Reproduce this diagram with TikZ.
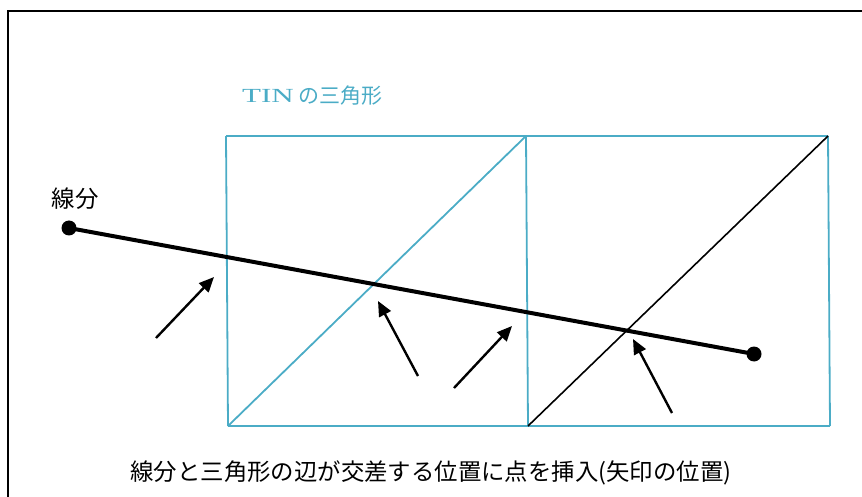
\documentclass[tikz,border=0pt]{standalone}
\usepackage{fontspec}
\setmainfont{Liberation Serif}
\newfontfamily\jp{Noto Sans CJK JP}
\usetikzlibrary{arrows.meta}
\definecolor{tinblue}{RGB}{75,172,198}
\begin{document}
\begin{tikzpicture}[x=1pt,y=-1pt,
  tinedge/.style={draw=tinblue,line width=1.8pt},
  blackedge/.style={draw=black,line width=1.6pt},
  seg/.style={line width=4pt},
  endpt/.style={circle,fill=black,inner sep=0pt,minimum size=15pt},
  pointer/.style={line width=2.4pt,-{Triangle[length=15pt,width=13pt]}},
  jplbl/.style={inner sep=0pt,font=\jp\fontsize{23.4}{24}\selectfont},
  tinlbl/.style={inner sep=0pt,text=tinblue}
]
\useasboundingbox (0,0) rectangle (862,497);
\draw[line width=2pt] (8,11) rectangle (872,507);
% TIN vertices
\coordinate (a1) at (226,136);
\coordinate (a2) at (526,136);
\coordinate (a3) at (828,136);
\coordinate (b1) at (228,426);
\coordinate (b2) at (528,426);
\coordinate (b3) at (830,426);
% triangles
\draw[tinedge] (a1) -- (a2) -- (a3);
\draw[tinedge] (b1) -- (b2) -- (b3);
\draw[tinedge] (a1) -- (b1);
\draw[tinedge] (a2) -- (b2);
\draw[tinedge] (a3) -- (b3);
\draw[tinedge] (b1) -- (a2);
\draw[blackedge] (b2) -- (a3);
% segment
\node[endpt] (p) at (69,228) {};
\node[endpt] (q) at (754,354) {};
\draw[seg] (p.center) -- (q.center);
% arrows
\coordinate (t1) at (156,338); \coordinate (h1) at (214,277);
\coordinate (t2) at (418,376); \coordinate (h2) at (378,301);
\coordinate (t3) at (454,388); \coordinate (h3) at (512,326);
\coordinate (t4) at (672,413); \coordinate (h4) at (633,339);
\draw[pointer] (t1) -- (h1);
\draw[pointer] (t2) -- (h2);
\draw[pointer] (t3) -- (h3);
\draw[pointer] (t4) -- (h4);
% labels
\node[tinlbl,anchor=base west] (tin) at (242,103) {\fontsize{20}{20}\selectfont\scalebox{1.55}[1]{TIN}\hspace{5pt}{\jp\fontsize{21}{21}\selectfont\raisebox{-1pt}{の三角形}}};
\node[jplbl] (segl) at (75,199) {線分};
\node[jplbl] (cap) at (431,473) {線分と三角形の辺が交差する位置に点を挿入(矢印の位置)};
\end{tikzpicture}
\end{document}
